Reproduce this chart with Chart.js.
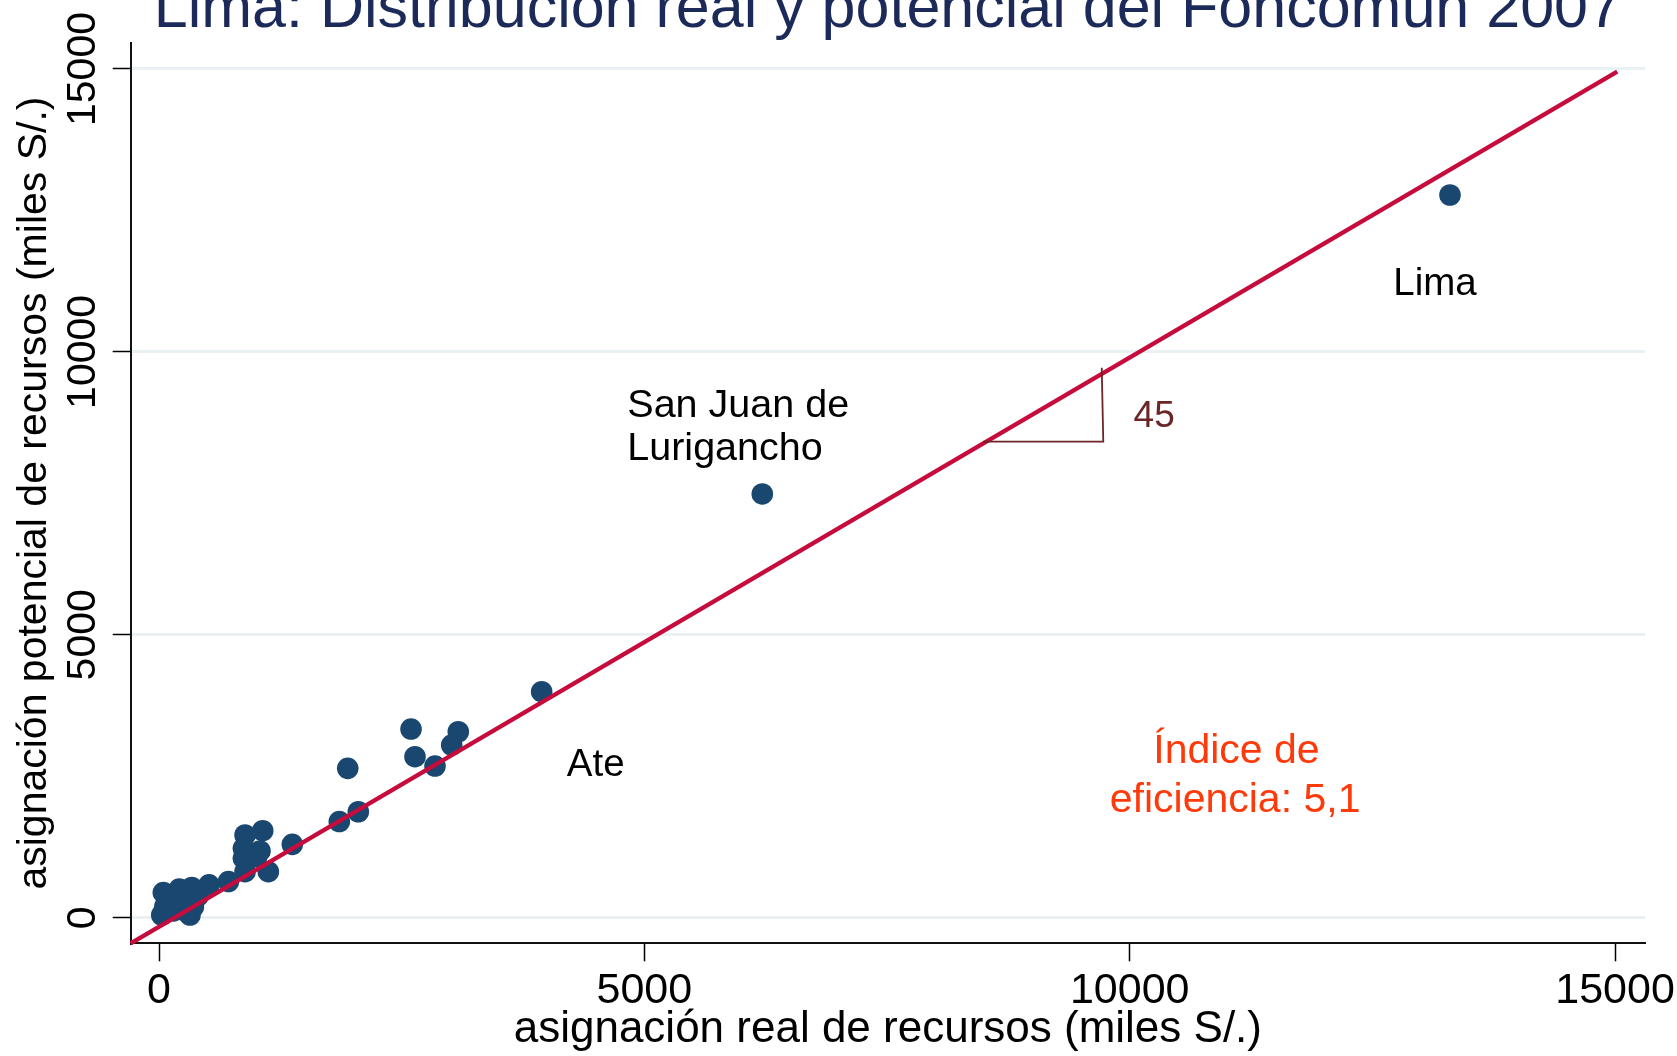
<!DOCTYPE html>
<html lang="es">
<head>
<meta charset="utf-8">
<title>Lima: Distribución real y potencial del Foncomún 2007</title>
<script src="https://cdn.jsdelivr.net/npm/chart.js@4.4.0/dist/chart.umd.min.js"></script>
<style>
  html, body { margin: 0; padding: 0; background: #fff; overflow: hidden; }
  canvas { display: block; }
</style>
</head>
<body>
<canvas id="grafico" width="1677" height="1056"></canvas>
<script>
// --- datos ---
const TITULO = 'Lima: Distribución real y potencial del Foncomún 2007';
const TITULO_X = 'asignación real de recursos (miles S/.)';
const TITULO_Y = 'asignación potencial de recursos (miles S/.)';

const xTicks = [0, 5000, 10000, 15000];
const yTicks = [0, 5000, 10000, 15000];

// un punto por distrito (miles de S/.)
const asignacionReal = [
  13300, 6215, 3942, 3083, 3015, 2596, 2637, 2843, 1944, 2053,
  1857, 1373, 1068, 886, 869, 1040, 869, 1006, 1126, 886,
  715, 515, 337, 208, 44, 44, 28, 319, 354, 113,
  289, 180, 60, 260, 400, 150
];
const asignacionPotencial = [
  12773, 7489, 3994, 3287, 3052, 3335, 2846, 2681, 2640, 1873,
  1700, 1297, 1538, 1462, 1227, 1180, 1050, 1080, 813, 813,
  640, 580, 535, 505, 445, 78, 48, 48, 194, 254,
  101, 330, 200, 300, 380, 120
];

// recta de 45 grados y marca del ángulo
const linea45X = [-292, 15023];
const linea45Y = [-452, 14952];
const anguloX = [8492, 9728, 9712];
const anguloY = [8413, 8413, 9721];

const FUENTE = "'Liberation Sans', Arial, sans-serif";

function puntos(xs, ys) {
  return xs.map((x, i) => ({ x: x, y: ys[i] }));
}

// textos sobre el gráfico, ubicados en unidades de los ejes
const anotaciones = {
  id: 'anotaciones',
  afterDraw(chart) {
    const { ctx, chartArea } = chart;
    const sx = chart.scales.x;
    const sy = chart.scales.y;
    ctx.save();

    ctx.font = '61px ' + FUENTE;
    ctx.fillStyle = '#1c2a5a';
    ctx.textAlign = 'center';
    ctx.textBaseline = 'alphabetic';
    ctx.fillText(TITULO, (chartArea.left + chartArea.right) / 2, 27);

    ctx.fillStyle = '#000';
    ctx.textAlign = 'left';
    ctx.font = '38.5px ' + FUENTE;
    ctx.fillText('Lima', sx.getPixelForValue(12716), sy.getPixelForValue(11006));
    ctx.fillText('Ate', sx.getPixelForValue(4201), sy.getPixelForValue(2513));
    ctx.font = '39.5px ' + FUENTE;
    ctx.fillText('San Juan de', sx.getPixelForValue(4824), sy.getPixelForValue(8855));
    ctx.fillText('Lurigancho', sx.getPixelForValue(4824), sy.getPixelForValue(8090));

    ctx.fillStyle = '#6b2526';
    ctx.font = '37px ' + FUENTE;
    ctx.fillText('45', sx.getPixelForValue(10040), sy.getPixelForValue(8680));

    ctx.fillStyle = '#ff3a0a';
    ctx.textAlign = 'center';
    ctx.font = '41px ' + FUENTE;
    ctx.fillText('Índice de', sx.getPixelForValue(11100), sy.getPixelForValue(2739));
    ctx.fillText('eficiencia: 5,1', sx.getPixelForValue(11086), sy.getPixelForValue(1873));

    ctx.restore();
  }
};

const ctx = document.getElementById('grafico').getContext('2d');
new Chart(ctx, {
  type: 'scatter',
  data: {
    datasets: [
      {
        label: 'ángulo',
        data: puntos(anguloX, anguloY),
        showLine: true,
        borderColor: '#6b2526',
        borderWidth: 1.8,
        pointRadius: 0,
        order: 0
      },
      {
        label: '45 grados',
        data: puntos(linea45X, linea45Y),
        showLine: true,
        borderColor: '#c50c3c',
        borderWidth: 4.3,
        pointRadius: 0,
        clip: false,
        order: 1
      },
      {
        label: 'distritos',
        data: puntos(asignacionReal, asignacionPotencial),
        backgroundColor: '#1a476f',
        borderWidth: 0,
        pointRadius: 10.8,
        order: 2
      }
    ]
  },
  options: {
    responsive: false,
    animation: false,
    devicePixelRatio: 1,
    layout: { padding: { top: 42.8, right: 32, bottom: 0, left: 0 } },
    plugins: {
      legend: { display: false },
      tooltip: { enabled: false }
    },
    scales: {
      x: {
        type: 'linear',
        min: -292,
        max: 15309,
        afterBuildTicks: (s) => { s.ticks = xTicks.map(v => ({ value: v })); },
        afterFit: (s) => { s.height = 112.7; s.paddingLeft = 0; s.paddingRight = 0; },
        grid: { drawOnChartArea: false, drawTicks: true, tickLength: 18, tickColor: '#000', tickWidth: 1.5 },
        border: { display: true, color: '#111', width: 2 },
        ticks: {
          autoSkip: false,
          minRotation: 0,
          maxRotation: 0,
          padding: 8,
          color: '#000',
          font: { family: FUENTE, size: 43, lineHeight: 1 },
          callback: (v) => String(v)
        },
        title: {
          display: true,
          text: TITULO_X,
          color: '#000',
          font: { family: FUENTE, size: 44, lineHeight: 1 },
          padding: { top: 0, bottom: 4 }
        }
      },
      y: {
        type: 'linear',
        min: -452,
        max: 15463,
        afterBuildTicks: (s) => { s.ticks = yTicks.map(v => ({ value: v })); },
        afterFit: (s) => { s.width = 130.7; s.paddingTop = 0; s.paddingBottom = 0; },
        grid: { color: '#e9f1f3', lineWidth: 3, drawTicks: true, tickLength: 18, tickColor: '#000', tickWidth: 1.5 },
        border: { display: true, color: '#111', width: 2 },
        ticks: {
          autoSkip: false,
          minRotation: 90,
          maxRotation: 90,
          crossAlign: 'center',
          padding: -28,
          color: '#000',
          font: { family: FUENTE, size: 41, lineHeight: 1 },
          callback: (v) => String(v)
        },
        title: {
          display: true,
          text: TITULO_Y,
          color: '#000',
          font: { family: FUENTE, size: 41, lineHeight: 1 },
          padding: { top: 14, bottom: 0 }
        }
      }
    }
  },
  plugins: [anotaciones]
});
</script>
</body>
</html>
